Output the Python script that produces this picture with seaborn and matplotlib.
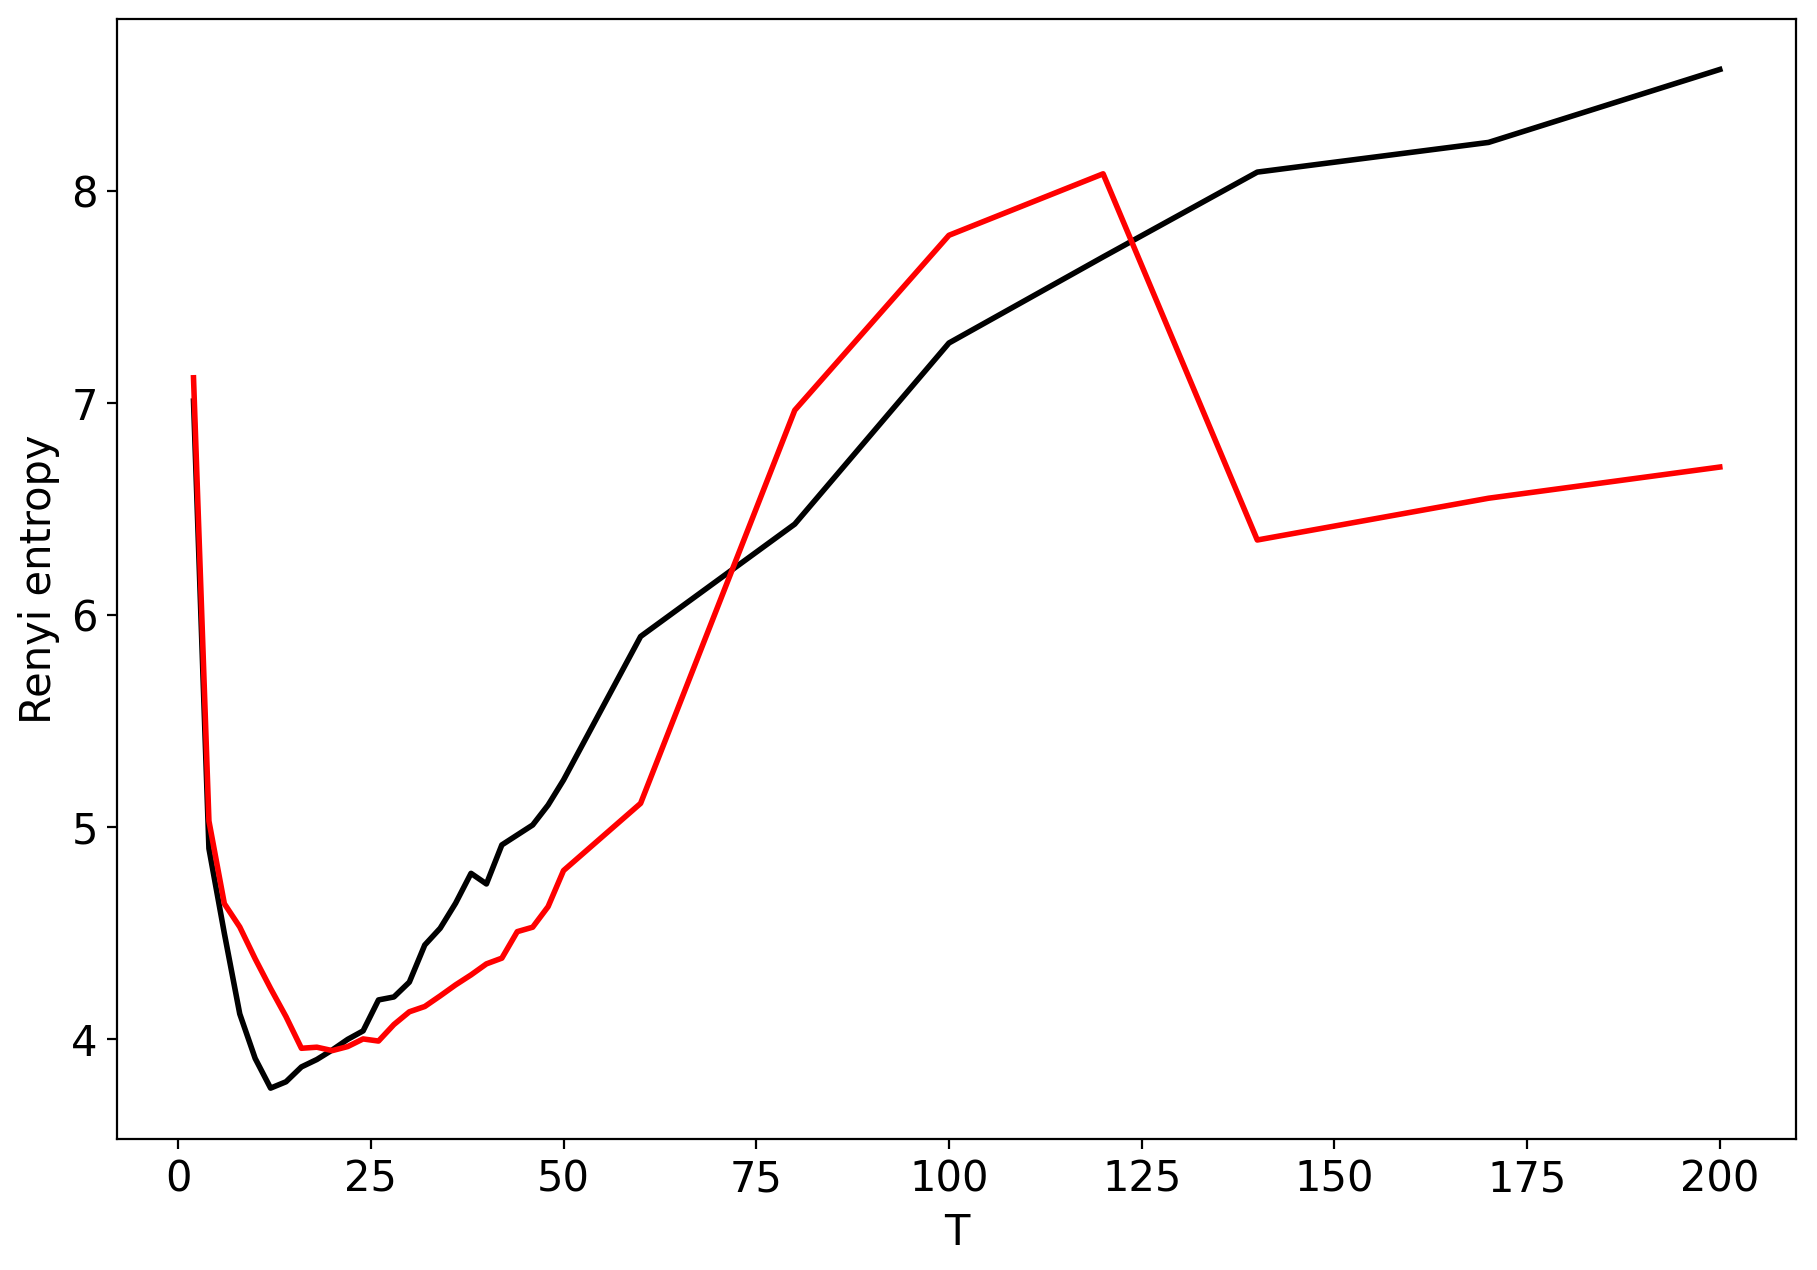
import numpy as np
import pandas as pd
import seaborn as sns
import matplotlib
matplotlib.use("Agg")
import matplotlib.pyplot as plt

# data
T = [2, 4, 6, 8, 10, 12, 14, 16, 18, 20, 22, 24, 26, 28, 30, 32, 34, 36, 38, 40,
     42, 44, 46, 48, 50, 60, 80, 100, 120, 140, 170, 200]
renyi_black = [7.01, 4.90, 4.50, 4.12, 3.91, 3.77, 3.80, 3.87, 3.905, 3.95, 4.00, 4.04,
               4.186, 4.20, 4.27, 4.445, 4.524, 4.642, 4.783, 4.733, 4.917, 4.964, 5.011,
               5.105, 5.223, 5.90, 6.43, 7.284, 7.69, 8.09, 8.23, 8.574]
renyi_red = [7.12, 5.03, 4.64, 4.53, 4.38, 4.24, 4.107, 3.958, 3.963, 3.947, 3.966, 4.002,
             3.992, 4.07, 4.13, 4.155, 4.205, 4.257, 4.304, 4.356, 4.383, 4.508, 4.529,
             4.626, 4.796, 5.113, 6.967, 7.792, 8.082, 6.355, 6.552, 6.699]

df = pd.DataFrame({"T": T, "black": renyi_black, "red": renyi_red})

fig, ax = plt.subplots(figsize=(9.085, 6.35), dpi=200)
fig.subplots_adjust(left=0.0645, right=0.9885, top=0.9854, bottom=0.1031)

sns.lineplot(data=df, x="T", y="black", color="black", linewidth=2, ax=ax)
sns.lineplot(data=df, x="T", y="red", color="red", linewidth=2, ax=ax)

ax.set_xlabel("T", fontsize=15)
ax.set_ylabel("Renyi entropy", fontsize=15)
ax.set_xticks([0, 25, 50, 75, 100, 125, 150, 175, 200])
ax.set_yticks([4, 5, 6, 7, 8])
ax.tick_params(labelsize=15)

fig.savefig("out.png", dpi=200)
